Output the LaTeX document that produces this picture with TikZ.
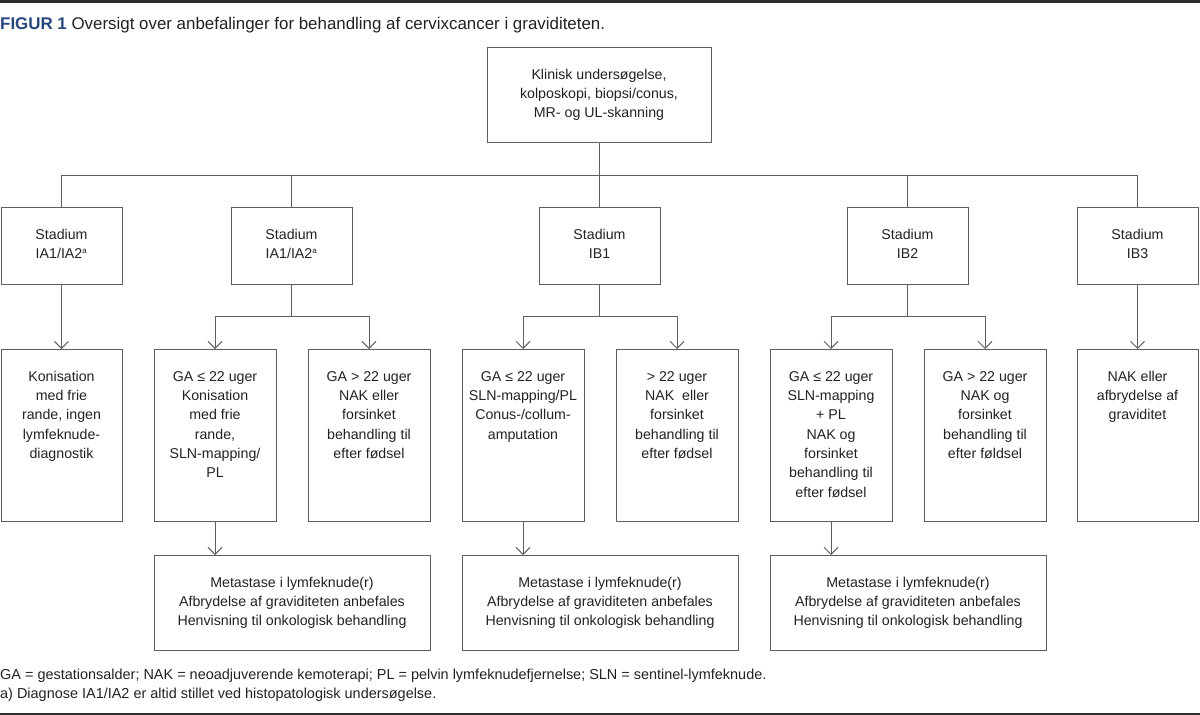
\documentclass[tikz,border=0pt]{standalone}
\usepackage{fontspec}
\setmainfont{Liberation Sans}
\usetikzlibrary{arrows.meta}
\definecolor{ln}{HTML}{5F5F5F}
\definecolor{tx}{HTML}{222222}
\definecolor{figblue}{HTML}{27467E}
\definecolor{rule}{HTML}{2E2E2E}
\newcommand\mybox[6]{%
  \node[box, minimum width=#4-#2, minimum height=#5-#3, anchor=north west] (#1) at (#2,#3) {};
  \node[txt, anchor=north] (#1-t) at ([yshift=-21.5pt]#1.north) {\rule{0pt}{10.5pt}#6};
}
\newcommand\supa{\textsuperscript{\fontsize{8}{8}\selectfont a}}
\begin{document}
\begin{tikzpicture}[x=1pt,y=-1pt,
  box/.style={draw=ln, line width=1pt, inner sep=0pt, outer sep=0pt},
  txt/.style={text=tx, align=center, inner sep=0pt, font=\fontsize{14.2}{19.3}\selectfont},
  con/.style={draw=ln, line width=1pt},
  arr/.style={con, -{Straight Barb[length=7pt,width=14pt]}},
  note/.style={text=tx, anchor=base west, inner sep=0pt, font=\fontsize{14.45}{19}\selectfont}]
\useasboundingbox (0,0) rectangle (1200,715);
\fill[rule] (0,0) rectangle (1200,2.5);
\fill[rule] (0,712.5) rectangle (1200,715);
\node[anchor=base west, inner sep=0pt, text=tx, font=\fontsize{16.9}{18}\selectfont] (title) at (0,29)
  {\textcolor{figblue}{\bfseries FIGUR 1} Oversigt over anbefalinger for behandling af cervixcancer i graviditeten.};

\mybox{top}{487}{47}{711}{142}{Klinisk undersøgelse,\\kolposkopi, biopsi/conus,\\MR- og UL-skanning}

\mybox{s1}{1}{207}{122}{284}{Stadium\\IA1/IA2\supa}
\mybox{s2}{231}{207}{352}{284}{Stadium\\IA1/IA2\supa}
\mybox{s3}{539}{207}{660}{284}{Stadium\\IB1}
\mybox{s4}{847}{207}{968}{284}{Stadium\\IB2}
\mybox{s5}{1077}{207}{1198}{284}{Stadium\\IB3}

\mybox{k1}{1}{349}{122}{521}{Konisation\\med frie\\rande, ingen\\lymfeknude-\\diagnostik}
\mybox{k2}{154}{349}{276}{521}{GA ≤ 22 uger\\Konisation\\med frie\\rande,\\SLN-mapping/\\PL}
\mybox{k3}{308}{349}{430}{521}{GA > 22 uger\\NAK eller\\forsinket\\behandling til\\efter fødsel}
\mybox{k4}{462}{349}{584}{521}{GA ≤ 22 uger\\SLN-mapping/PL\\Conus-/collum-\\amputation}
\mybox{k5}{616}{349}{738}{521}{> 22 uger\\NAK~ eller\\forsinket\\behandling til\\efter fødsel}
\mybox{k6}{770}{349}{892}{521}{GA ≤ 22 uger\\SLN-mapping\\+ PL\\NAK og\\forsinket\\behandling til\\efter fødsel}
\mybox{k7}{924}{349}{1046}{521}{GA > 22 uger\\NAK og\\forsinket\\behandling til\\efter føldsel}
\mybox{k8}{1077}{349}{1198}{521}{NAK eller\\afbrydelse af\\graviditet}

\mybox{m1}{154}{555}{430}{650}{Metastase i lymfeknude(r)\\Afbrydelse af graviditeten anbefales\\Henvisning til onkologisk behandling}
\mybox{m2}{462}{555}{738}{650}{Metastase i lymfeknude(r)\\Afbrydelse af graviditeten anbefales\\Henvisning til onkologisk behandling}
\mybox{m3}{770}{555}{1046}{650}{Metastase i lymfeknude(r)\\Afbrydelse af graviditeten anbefales\\Henvisning til onkologisk behandling}

% connectors
\coordinate (h) at (0,175);
\coordinate (b) at (0,316);
\draw[con] (top.south) -- (top.south |- h);
\draw[con] (s1.north |- h) -- (s5.north |- h);
\foreach \s in {s1,s2,s3,s4,s5}{\draw[con] (\s.north |- h) -- (\s.north);}

\draw[arr] (s1.south) -- (k1.north);
\draw[arr] (s5.south) -- (k8.north);

\draw[con] (s2.south) -- (s2.south |- b);
\draw[con] (k2.north |- b) -- (k3.north |- b);
\draw[arr] (k2.north |- b) -- (k2.north);
\draw[arr] (k3.north |- b) -- (k3.north);

\draw[con] (s3.south) -- (s3.south |- b);
\draw[con] (k4.north |- b) -- (k5.north |- b);
\draw[arr] (k4.north |- b) -- (k4.north);
\draw[arr] (k5.north |- b) -- (k5.north);

\draw[con] (s4.south) -- (s4.south |- b);
\draw[con] (k6.north |- b) -- (k7.north |- b);
\draw[arr] (k6.north |- b) -- (k6.north);
\draw[arr] (k7.north |- b) -- (k7.north);

\draw[arr] (k2.south) -- (k2.south |- m1.north);
\draw[arr] (k4.south) -- (k4.south |- m2.north);
\draw[arr] (k6.south) -- (k6.south |- m3.north);

\node[note] (n1) at (0,679) {GA = gestationsalder; NAK = neoadjuverende kemoterapi; PL = pelvin lymfeknudefjernelse; SLN = sentinel-lymfeknude.};
\node[note] (n2) at (0,698) {a) Diagnose IA1/IA2 er altid stillet ved histopatologisk undersøgelse.};
\end{tikzpicture}
\end{document}
